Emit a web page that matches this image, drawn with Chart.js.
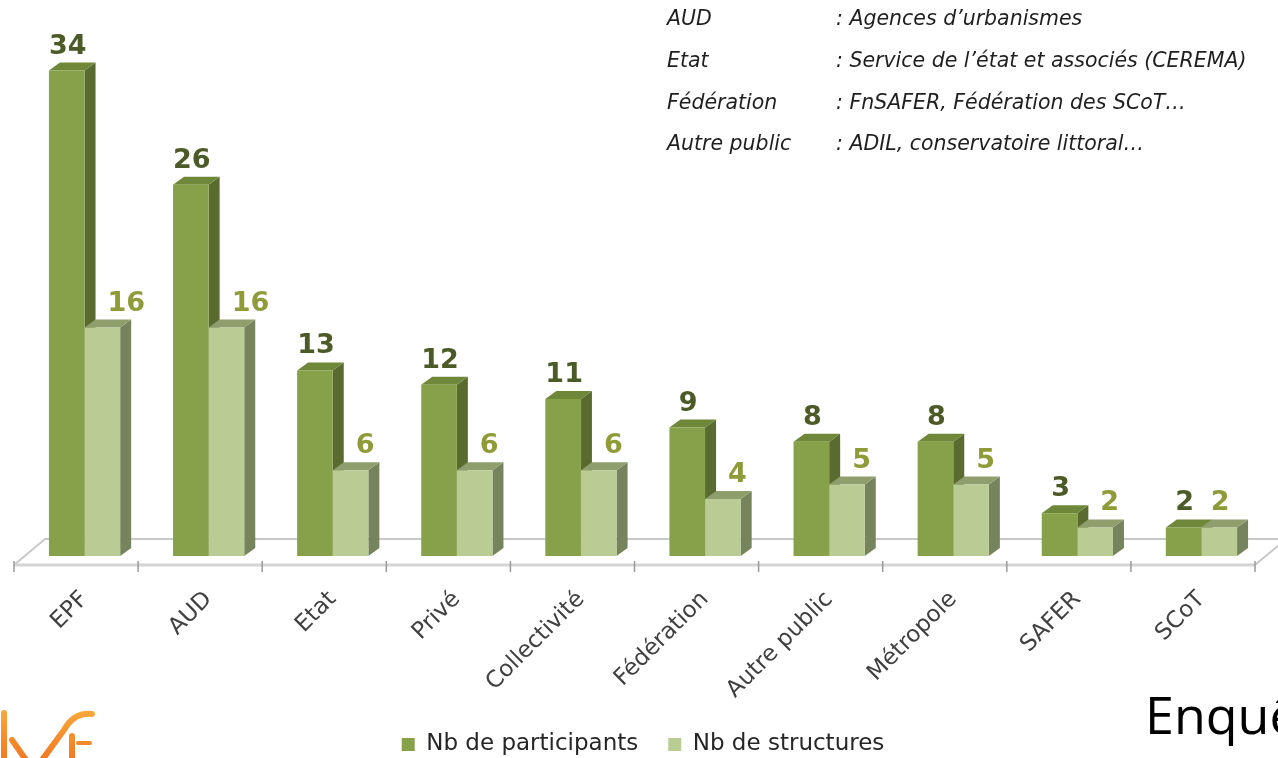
<!DOCTYPE html>
<html>
<head>
<meta charset="utf-8">
<script src="https://cdn.jsdelivr.net/npm/chart.js@4/dist/chart.umd.min.js"></script>
<style>
  body { margin: 0; background: #ffffff; }
  canvas { display: block; }
</style>
</head>
<body>
<canvas id="graficoParticipants" width="1278" height="758"></canvas>
<script>
// Données
const categories = ['EPF', 'AUD', 'Etat', 'Privé', 'Collectivité', 'Fédération', 'Autre public', 'Métropole', 'SAFER', 'SCoT'];
const nbParticipants = [34, 26, 13, 12, 11, 9, 8, 8, 3, 2];
const nbStructures = [16, 16, 6, 6, 6, 4, 5, 5, 2, 2];
const nomsSeries = ['Nb de participants', 'Nb de structures'];

// Légende des sigles (en haut à droite)
const sigles = ['AUD', 'Etat', 'Fédération', 'Autre public'];
const definitions = [': Agences d’urbanismes', ': Service de l’état et associés (CEREMA)', ': FnSAFER, Fédération des SCoT…', ': ADIL, conservatoire littoral…'];

// Couleurs : face avant, côté, dessus
const couleursFonce = { avant: '#87a14b', cote: '#5a6b2f', dessus: '#6e8739', texte: '#4b5a27' };
const couleursClair = { avant: '#b9cc94', cote: '#76845d', dessus: '#8e9e6d', texte: '#8e9b38' };
const profondeur = { dx: 11, dy: -8 };

function dessinerFaces(ctx, barre, c) {
    const p = barre.getProps(['x', 'y', 'base', 'width'], true);
    const g = p.x - p.width / 2, d = p.x + p.width / 2;
    // côté droit
    ctx.fillStyle = c.cote;
    ctx.beginPath();
    ctx.moveTo(d, p.y);
    ctx.lineTo(d + profondeur.dx, p.y + profondeur.dy);
    ctx.lineTo(d + profondeur.dx, p.base + profondeur.dy);
    ctx.lineTo(d, p.base);
    ctx.closePath();
    ctx.fill();
    // dessus
    ctx.fillStyle = c.dessus;
    ctx.beginPath();
    ctx.moveTo(g, p.y);
    ctx.lineTo(g + profondeur.dx, p.y + profondeur.dy);
    ctx.lineTo(d + profondeur.dx, p.y + profondeur.dy);
    ctx.lineTo(d, p.y);
    ctx.closePath();
    ctx.fill();
}

const effet3D = {
    id: 'effet3D',
    beforeDatasetsDraw(chart) {
        const ctx = chart.ctx;
        const zone = chart.chartArea;
        const sx = chart.scales.x;
        ctx.save();
        // plancher
        const fy = zone.bottom + 9;
        const fg = zone.left - 8.5, fd = zone.right - 8.5;
        ctx.strokeStyle = '#c8c8c8';
        ctx.lineWidth = 2;
        ctx.beginPath();
        ctx.moveTo(fg, fy);
        ctx.lineTo(fg + 31, fy - 26);
        ctx.lineTo(fd + 31, fy - 26);
        ctx.lineTo(fd, fy);
        ctx.stroke();
        ctx.strokeStyle = '#d4d4d4';
        ctx.lineWidth = 3;
        ctx.beginPath();
        ctx.moveTo(fg, fy);
        ctx.lineTo(fd, fy);
        ctx.stroke();
        // graduations
        const demi = (sx.getPixelForValue(1) - sx.getPixelForValue(0)) / 2;
        ctx.strokeStyle = '#9a9a9a';
        ctx.lineWidth = 1.5;
        for (let i = 0; i <= categories.length; i++) {
            const px = sx.getPixelForValue(0) - demi + i * 2 * demi - 8.5;
            ctx.beginPath();
            ctx.moveTo(px, fy - 4);
            ctx.lineTo(px, fy + 7);
            ctx.stroke();
        }
        // côtés et dessus des barres
        const m0 = chart.getDatasetMeta(0), m1 = chart.getDatasetMeta(1);
        for (let i = 0; i < categories.length; i++) {
            dessinerFaces(ctx, m0.data[i], couleursFonce);
            dessinerFaces(ctx, m1.data[i], couleursClair);
        }
        ctx.restore();
    },
    afterDatasetsDraw(chart) {
        const ctx = chart.ctx;
        const m0 = chart.getDatasetMeta(0), m1 = chart.getDatasetMeta(1);
        ctx.save();
        ctx.font = 'bold 27px "DejaVu Sans"';
        ctx.textBaseline = 'alphabetic';
        for (let i = 0; i < categories.length; i++) {
            const a = m0.data[i].getProps(['x', 'y', 'width'], true);
            const b = m1.data[i].getProps(['x', 'y', 'width'], true);
            ctx.fillStyle = couleursFonce.texte;
            ctx.textAlign = 'center';
            ctx.fillText(String(nbParticipants[i]), a.x + 1, a.y - 17);
            ctx.fillStyle = couleursClair.texte;
            if (nbParticipants[i] > nbStructures[i]) {
                // décalé à droite pour ne pas chevaucher la barre foncée
                ctx.textAlign = 'left';
                ctx.fillText(String(nbStructures[i]), a.x + a.width / 2 + profondeur.dx + 12, b.y - 17);
            } else {
                ctx.fillText(String(nbStructures[i]), b.x + 1, b.y - 17);
            }
        }
        ctx.restore();
    },
    afterDraw(chart) {
        const ctx = chart.ctx;
        ctx.save();
        // sigles
        ctx.font = 'italic 20.5px "DejaVu Sans"';
        ctx.fillStyle = '#1f1f1f';
        ctx.textBaseline = 'middle';
        ctx.textAlign = 'left';
        sigles.forEach((s, i) => {
            ctx.fillText(s, 667, 20 + i * 41.7);
            ctx.fillText(definitions[i], 836, 20 + i * 41.7);
        });
        // texte coupé en bas à droite
        ctx.font = '52px "Open Sans"';
        ctx.fillStyle = '#000000';
        ctx.textBaseline = 'alphabetic';
        ctx.fillText('Enquête', 1145, 734);
        // logo orange (coupé)
        const grad = ctx.createLinearGradient(0, 710, 0, 758);
        grad.addColorStop(0, '#f9a83a');
        grad.addColorStop(1, '#f27a24');
        ctx.strokeStyle = grad;
        ctx.lineWidth = 6;
        ctx.lineCap = 'round';
        ctx.beginPath();
        ctx.moveTo(4, 713); ctx.lineTo(4, 760);
        ctx.moveTo(12, 740); ctx.lineTo(26, 760);
        ctx.moveTo(42, 760); ctx.lineTo(64, 730);
        ctx.quadraticCurveTo(74, 712, 92, 714);
        ctx.moveTo(72, 760); ctx.lineTo(72, 736);
        ctx.stroke();
        ctx.lineWidth = 4;
        ctx.beginPath();
        ctx.moveTo(78, 743); ctx.lineTo(90, 743);
        ctx.stroke();
        ctx.restore();
    }
};

const ctxGraf = document.getElementById('graficoParticipants').getContext('2d');
const grafico = new Chart(ctxGraf, {
    type: 'bar',
    data: {
        labels: categories,
        datasets: [{
            label: nomsSeries[0],
            data: nbParticipants,
            backgroundColor: couleursFonce.avant,
            borderWidth: 0,
            categoryPercentage: 0.574,
            barPercentage: 1
        }, {
            label: nomsSeries[1],
            data: nbStructures,
            backgroundColor: couleursClair.avant,
            borderWidth: 0,
            categoryPercentage: 0.574,
            barPercentage: 1
        }]
    },
    options: {
        responsive: false,
        animation: false,
        devicePixelRatio: 1,
        layout: { padding: { left: 22.5, right: 14.5, top: 42, bottom: -8 } },
        plugins: {
            tooltip: { enabled: false },
            legend: {
                position: 'bottom',
                labels: {
                    boxWidth: 13,
                    boxHeight: 13,
                    padding: 30,
                    color: '#262626',
                    font: { family: 'DejaVu Sans', size: 23 }
                }
            }
        },
        scales: {
            x: {
                grid: { display: false, drawTicks: false },
                border: { display: false },
                ticks: {
                    autoSkip: false,
                    minRotation: 45,
                    maxRotation: 45,
                    padding: 30,
                    color: '#404040',
                    font: { family: 'DejaVu Sans', size: 23 }
                },
                afterFit: (scale) => { scale.height = 147; }
            },
            y: {
                display: false,
                min: 0,
                max: 36
            }
        }
    },
    plugins: [effet3D]
});
</script>
</body>
</html>
